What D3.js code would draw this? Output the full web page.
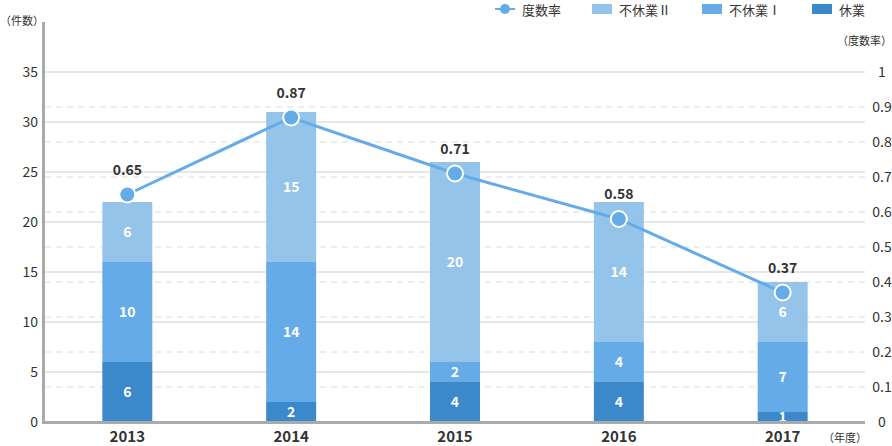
<!DOCTYPE html>
<html><head><meta charset="utf-8">
<script src="https://cdn.jsdelivr.net/npm/d3@7"></script>
<style>
body{margin:0;background:#fff;}
svg{display:block;font-family:"Noto Sans CJK JP","Noto Sans",sans-serif;}
</style></head>
<body><svg id="c" width="892" height="446"></svg>
<script>
const years = ["2013","2014","2015","2016","2017"];
const kyugyo = [6, 2, 4, 4, 1];
const fukyugyo1 = [10, 14, 2, 4, 7];
const fukyugyo2 = [6, 15, 20, 14, 6];
const rate = [0.65, 0.87, 0.71, 0.58, 0.37];
const leftTicks = [0, 5, 10, 15, 20, 25, 30, 35];
const rightTicks = [0, 0.1, 0.2, 0.3, 0.4, 0.5, 0.6, 0.7, 0.8, 0.9, 1];
const seriesNames = ["休業", "不休業Ⅰ", "不休業Ⅱ"];
const legendNames = ["度数率", "不休業Ⅱ", "不休業Ⅰ", "休業"];

const colors = {"休業":"#3b88cb","不休業Ⅰ":"#64abe7","不休業Ⅱ":"#95c4eb"};
const lineColor = "#64abe7";
const svg = d3.select("#c");
const L = 45, R = 865, T = 22, B = 422;

const x = d3.scaleBand().domain(years).range([L, R]).paddingInner(0.695).paddingOuter(0.35);
const y = d3.scaleLinear().domain([0, 40]).range([B, T]);
const y2 = d3.scaleLinear().domain([0, 1]).range([B, y(35)]);

// gridlines
svg.append("g").selectAll("line").data(rightTicks.filter(d => d > 0 && d < 1)).join("line")
  .attr("x1", L).attr("x2", R).attr("y1", d => y2(d)).attr("y2", d => y2(d))
  .attr("stroke", "#dcdcdc").attr("stroke-dasharray", "6,5");
svg.append("g").selectAll("line").data(leftTicks.filter(d => d > 0)).join("line")
  .attr("x1", L).attr("x2", R).attr("y1", d => y(d)).attr("y2", d => y(d))
  .attr("stroke", "#cfcfcf");

// stacked bars
const rows = years.map((yr, i) => ({year: yr, "休業": kyugyo[i], "不休業Ⅰ": fukyugyo1[i], "不休業Ⅱ": fukyugyo2[i]}));
const stacked = d3.stack().keys(seriesNames)(rows);
const gb = svg.append("g");
stacked.forEach(s => {
  gb.append("g").selectAll("rect").data(s).join("rect")
    .attr("x", d => x(d.data.year)).attr("width", x.bandwidth())
    .attr("y", d => y(d[1])).attr("height", d => y(d[0]) - y(d[1]))
    .attr("fill", colors[s.key]);
});
stacked.forEach(s => {
  gb.append("g").selectAll("text").data(s).join("text")
    .attr("x", d => x(d.data.year) + x.bandwidth()/2)
    .attr("y", d => (y(d[0]) + y(d[1]))/2)
    .attr("dy", "0.36em").attr("text-anchor", "middle")
    .attr("fill", "#fff").attr("font-size", 14).attr("font-weight", "bold")
    .text(d => d[1] - d[0]);
});

// axes lines
svg.append("line").attr("x1", L - 1.5).attr("x2", L - 1.5).attr("y1", T).attr("y2", B + 1.5)
  .attr("stroke", "#aaa").attr("stroke-width", 3);
svg.append("line").attr("x1", L - 3).attr("x2", R).attr("y1", B + 0.5).attr("y2", B + 0.5)
  .attr("stroke", "#aaa").attr("stroke-width", 3);

// left tick labels
svg.append("g").selectAll("text").data(leftTicks).join("text")
  .attr("x", 38).attr("y", d => y(d)).attr("dy", "0.35em").attr("text-anchor", "end")
  .attr("font-size", 14).attr("fill", "#333").text(d => d);
// right tick labels
svg.append("g").selectAll("text").data(rightTicks).join("text")
  .attr("x", 882).attr("y", d => y2(d)).attr("dy", "0.35em").attr("text-anchor", "middle")
  .attr("font-size", 14).attr("fill", "#333").text(d => d);
// x labels
svg.append("g").selectAll("text").data(years).join("text")
  .attr("x", d => x(d) + x.bandwidth()/2).attr("y", 441.5)
  .attr("text-anchor", "middle").attr("font-size", 15).attr("font-weight", "bold")
  .attr("fill", "#333").text(d => d);

svg.append("text").attr("x", 0).attr("y", 25).attr("font-size", 11).attr("fill", "#333").text("（件数）");
svg.append("text").attr("x", 892).attr("y", 45).attr("text-anchor", "end").attr("font-size", 11).attr("fill", "#333").text("（度数率）");
svg.append("text").attr("x", 867).attr("y", 442).attr("text-anchor", "end").attr("font-size", 11).attr("fill", "#333").text("（年度）");

// line
const cx = i => x(years[i]) + x.bandwidth()/2;
svg.append("path").datum(rate)
  .attr("d", d3.line().x((d, i) => cx(i)).y(d => y2(d)))
  .attr("fill", "none").attr("stroke", lineColor).attr("stroke-width", 3);
svg.append("g").selectAll("circle").data(rate).join("circle")
  .attr("cx", (d, i) => cx(i)).attr("cy", d => y2(d)).attr("r", 8)
  .attr("fill", lineColor).attr("stroke", "#fff").attr("stroke-width", 2);
svg.append("g").selectAll("text").data(rate).join("text")
  .attr("x", (d, i) => cx(i)).attr("y", d => y2(d) - 20)
  .attr("text-anchor", "middle").attr("font-size", 14).attr("font-weight", "bold")
  .attr("fill", "#333").text(d => d.toFixed(2));

// legend
const lg = svg.append("g");
const lx = [495, 592, 702, 812];
const ly = 9;
lg.append("line").attr("x1", lx[0]).attr("x2", lx[0] + 20).attr("y1", ly).attr("y2", ly)
  .attr("stroke", lineColor).attr("stroke-width", 2);
lg.append("circle").attr("cx", lx[0] + 10).attr("cy", ly).attr("r", 5).attr("fill", lineColor);
const legCols = [null, colors["不休業Ⅱ"], colors["不休業Ⅰ"], colors["休業"]];
legendNames.forEach((n, i) => {
  if (i > 0) lg.append("rect").attr("x", lx[i]).attr("y", ly - 5).attr("width", 20).attr("height", 10).attr("fill", legCols[i]);
  lg.append("text").attr("x", lx[i] + 27).attr("y", ly + 5.5)
    .attr("font-size", 13).attr("fill", "#333").text(n);
});
</script></body></html>
